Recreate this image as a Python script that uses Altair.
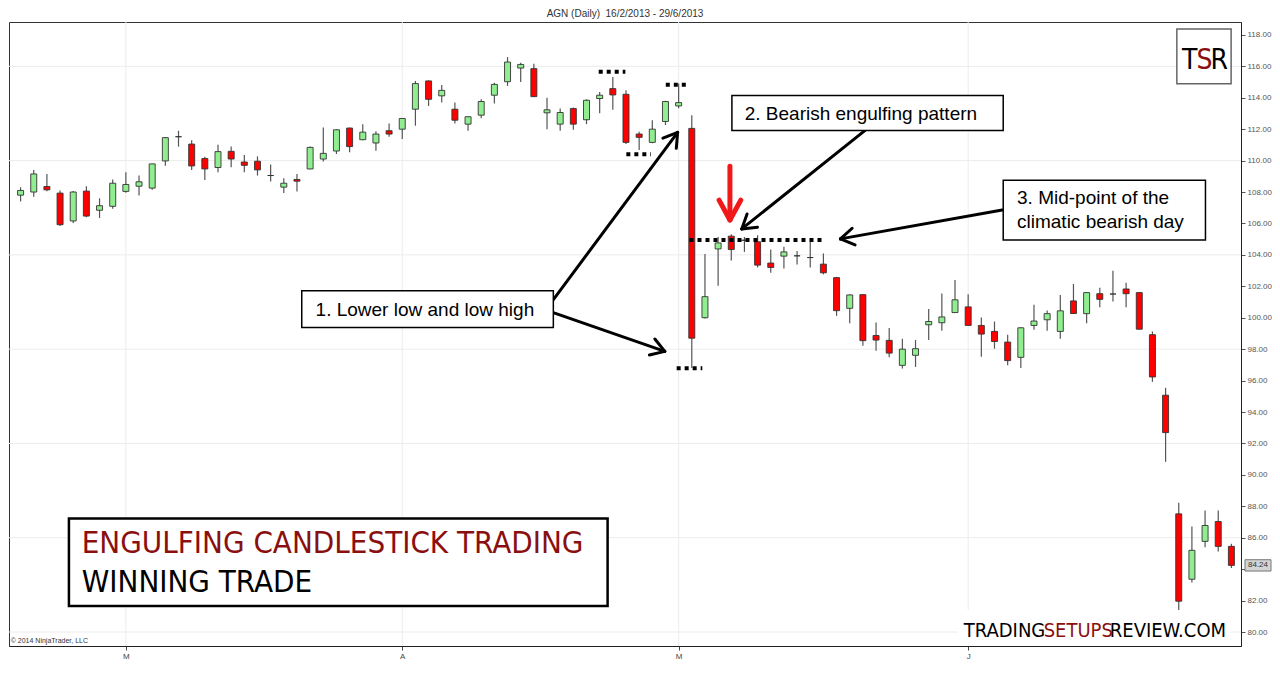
import math
import altair as alt
import pandas as pd

# ---------------- data ----------------
opens = [107.8, 108.0, 108.35, 107.93, 106.16, 108.06, 106.84, 107.09, 108.04, 108.37,
         108.25, 109.98, 111.52, 111.05, 110.13, 109.56, 110.59, 109.91, 109.96, 109.05,
         108.31, 108.8, 109.47, 110.1, 110.61, 112.07, 111.33, 111.12, 111.9, 112.0,
         113.27, 115.07, 114.12, 113.27, 112.32, 112.89, 114.16, 115.02, 115.89, 115.85,
         113.04, 112.32, 113.31, 112.6, 113.95, 114.58, 114.22, 111.69, 111.16, 112.49,
         113.48, 112.05, 100.0, 104.38, 105.19, 104.93, 104.83, 103.48, 103.92, 103.94,
         103.83, 103.41, 102.55, 100.6, 101.47, 98.87, 98.56, 96.97, 97.61, 99.55,
         99.68, 100.33, 100.69, 99.51, 99.13, 98.45, 97.48, 99.51, 99.87, 99.13,
         101.07, 100.26, 101.53, 101.51, 101.83, 101.6, 98.92, 95.07, 87.52, 83.36,
         85.77, 87.03, 85.45]
highs = [108.3, 109.4, 109.15, 108.1, 108.06, 108.37, 107.6, 108.8, 109.26, 109.05,
         109.8, 111.5, 111.9, 111.3, 110.25, 111.01, 110.89, 110.36, 110.27, 109.75,
         108.88, 109.15, 110.9, 112.1, 112.0, 112.1, 112.32, 111.86, 112.36, 112.7,
         115.07, 115.1, 114.81, 113.69, 112.8, 113.9, 114.96, 116.59, 116.23, 116.16,
         114.0, 113.31, 113.38, 113.9, 114.37, 115.32, 114.47, 111.84, 112.57, 113.8,
         114.9, 112.89, 104.05, 105.14, 105.32, 105.14, 105.25, 104.34, 104.51, 104.24,
         104.83, 104.09, 102.6, 101.5, 101.5, 99.69, 99.34, 98.67, 98.58, 100.56,
         101.55, 102.4, 101.49, 100.01, 99.76, 98.92, 99.4, 100.82, 100.46, 101.45,
         102.15, 101.62, 101.91, 102.99, 102.23, 101.62, 99.13, 95.54, 88.22, 86.71,
         87.73, 87.73, 85.62]
lows = [107.4, 107.7, 108.05, 105.84, 106.03, 106.4, 106.35, 106.94, 107.95, 107.78,
        108.14, 109.68, 110.89, 109.4, 108.77, 109.26, 109.58, 109.26, 109.05, 108.67,
        107.93, 108.04, 109.45, 109.94, 110.42, 110.53, 111.3, 110.63, 111.52, 111.37,
        112.22, 113.48, 113.69, 112.36, 111.9, 112.7, 113.63, 114.75, 115.0, 114.05,
        112.0, 111.9, 111.96, 112.32, 113.02, 113.23, 111.05, 110.67, 111.1, 112.26,
        113.33, 96.8, 99.95, 102.04, 103.64, 104.19, 103.2, 102.86, 103.14, 103.39,
        103.2, 102.76, 100.12, 99.65, 98.22, 97.9, 97.48, 96.77, 96.87, 98.58,
        99.17, 100.3, 99.5, 97.52, 98.03, 96.97, 96.8, 99.24, 99.17, 98.67,
        100.25, 99.65, 100.67, 101.03, 100.67, 99.25, 95.92, 90.83, 81.29, 83.15,
        85.4, 85.13, 84.07]
closes = [108.1, 109.15, 108.14, 105.92, 108.0, 106.47, 107.13, 108.56, 108.48, 108.65,
          109.79, 111.46, 111.52, 109.66, 109.47, 110.57, 110.1, 109.7, 109.41, 109.05,
          108.56, 108.69, 110.84, 110.46, 111.96, 110.89, 111.81, 111.69, 111.69, 112.68,
          114.9, 113.9, 114.47, 112.57, 112.79, 113.76, 114.85, 116.27, 116.12, 114.07,
          113.23, 113.06, 112.32, 113.84, 114.16, 114.18, 111.16, 111.48, 112.0, 113.76,
          113.69, 98.7, 101.34, 104.76, 104.34, 104.93, 103.35, 103.2, 104.19, 103.94,
          103.83, 102.86, 100.45, 101.45, 98.54, 98.58, 97.75, 98.0, 98.03, 99.76,
          100.05, 101.14, 99.51, 98.96, 98.49, 97.27, 99.36, 99.79, 100.26, 100.44,
          100.27, 101.6, 101.17, 101.51, 101.53, 99.27, 96.23, 92.69, 81.96, 85.2,
          86.78, 85.45, 84.24]

month_tick_idx = [8, 29, 50, 72]
month_labels = ["M", "A", "M", "J"]
price_ticks = [80, 82, 84, 86, 88, 90, 92, 94, 96, 98, 100, 102, 104, 106, 108,
               110, 112, 114, 116, 118]
grid_prices = [80, 86, 92, 98, 104, 110, 116]
last_price = 84.24

# ---------------- layout ----------------
W, H = 1232, 624
X_DOM = [-0.5, 92.35]
Y_DOM = [79.11, 118.82]
FONT = "Liberation Sans"
NARROW = "DejaVu Sans Condensed"
DARKRED = "#8a1010"


def ix(px):  # reference pixel x -> bar index
    return (px - 12.0) / 13.34


def py(px):  # reference pixel y -> price
    return 118.0 - (px - 32.0) / 15.79


xs = alt.Scale(domain=X_DOM, nice=False, zero=False)
ys = alt.Scale(domain=Y_DOM, nice=False, zero=False)
label_expr = " : ".join(f"datum.value == {v} ? '{l}'" for v, l in zip(month_tick_idx, month_labels)) + " : ''"
x_axis = alt.Axis(values=month_tick_idx, labelExpr=label_expr, title=None, grid=False,
                  tickSize=4, labelFontSize=8, labelColor="#444", tickColor="#444",
                  domainColor="#222", labelFont=FONT, labelPadding=2)
y_axis = alt.Axis(values=price_ticks, format=".2f", orient="right", title=None, grid=False,
                  labelExpr=f"abs(datum.value - {last_price}) < 0.5 ? '' : format(datum.value, '.2f')",
                  tickSize=4, labelFontSize=8, labelColor="#555", tickColor="#555",
                  domainColor="#222", labelFont=FONT, labelPadding=2)


def X(f):
    return alt.X(f, type="quantitative", scale=xs, axis=x_axis)


def Y(f):
    return alt.Y(f, type="quantitative", scale=ys, axis=y_axis)


# ---------------- candles ----------------
rows = []
for i, (o, h, l, c) in enumerate(zip(opens, highs, lows, closes)):
    d = "up" if c > o else ("down" if c < o else "doji")
    rows.append(dict(idx=i, o=o, h=h, l=l, c=c, top=max(o, c), bot=min(o, c), dir=d))
cdf = pd.DataFrame(rows)

grid_h = alt.Chart(pd.DataFrame({"p": grid_prices})).mark_rule(
    color="#ececec", strokeWidth=1).encode(y=Y("p"))
grid_v = alt.Chart(pd.DataFrame({"i": month_tick_idx})).mark_rule(
    color="#ececec", strokeWidth=1).encode(x=X("i"))

wicks = alt.Chart(cdf).mark_rule(color="#555", strokeWidth=1.2).encode(
    x=X("idx"), y=Y("l"), y2="h")
bodies = alt.Chart(cdf).mark_bar(size=6, stroke="#333", strokeWidth=0.9).encode(
    x=X("idx"), y=Y("bot"), y2="top",
    color=alt.Color("dir:N", scale=alt.Scale(domain=["up", "down", "doji"],
                                             range=["#90ee90", "#ff0000", "#222222"]),
                    legend=None))

# ---------------- dotted marker lines ----------------
dots_px = [(598, 625, 69), (626, 651, 152), (666, 690, 82), (677, 703, 367), (690, 824, 238)]
ddf = pd.DataFrame([dict(x1=ix(a), x2=ix(b), y=py(y)) for a, b, y in dots_px])
dotted = alt.Chart(ddf).mark_rule(color="black", strokeWidth=4, strokeDash=[4, 4]).encode(
    x=X("x1"), x2="x2", y=Y("y"))


# ---------------- arrows ----------------
def arrow(sx, sy, tx, ty, L=16, ang=32):
    dx, dy = tx - sx, ty - sy
    n = math.hypot(dx, dy)
    bx, by = -dx / n, -dy / n
    segs = [(sx, sy, tx, ty)]
    for s in (1, -1):
        a = math.radians(ang * s)
        wx = tx + L * (bx * math.cos(a) - by * math.sin(a))
        wy = ty + L * (bx * math.sin(a) + by * math.cos(a))
        segs.append((wx, wy, tx, ty))
    return segs


black_arrows = []
for a in [(549, 302, 678, 130), (549, 310, 665, 350), (868, 128, 743, 227), (1007, 208, 843, 237)]:
    black_arrows += arrow(*a)
adf = pd.DataFrame([dict(x1=ix(a), y1=py(b), x2=ix(c), y2=py(d)) for a, b, c, d in black_arrows])
arrows = alt.Chart(adf).mark_rule(color="black", strokeWidth=3, strokeCap="round").encode(
    x=X("x1"), y=Y("y1"), x2="x2", y2="y2")

red_segs = [(731, 164, 731, 215), (720, 198, 731, 218), (742, 198, 731, 218)]
rdf = pd.DataFrame([dict(x1=ix(a), y1=py(b), x2=ix(c), y2=py(d)) for a, b, c, d in red_segs])
red_arrow = alt.Chart(rdf).mark_rule(color="#f01818", strokeWidth=5, strokeCap="round").encode(
    x=X("x1"), y=Y("y1"), x2="x2", y2="y2")


# ---------------- boxes ----------------
def box(rects, **kw):
    df = pd.DataFrame([dict(x1=ix(a), y1=py(b), x2=ix(c), y2=py(d)) for a, b, c, d in rects])
    return alt.Chart(df).mark_rect(**kw).encode(x=X("x1"), x2="x2", y=Y("y1"), y2="y2")


note_boxes = box([(297, 289, 552, 326), (733, 93, 1008, 128), (1008, 178, 1213, 238)],
                 fill="white", stroke="black", strokeWidth=1.5)
big_box = box([(61, 518, 607, 606)], fill="white", stroke="black", strokeWidth=2.5)
logo_bg = box([(962, 610, 1238, 645)], fill="white", stroke=None, strokeWidth=0)
tsr_box = box([(1184, 26, 1239, 81)], fill="white", stroke="#666", strokeWidth=1.5)


# ---------------- texts ----------------
def texts(items, **kw):
    df = pd.DataFrame([dict(x=ix(a), y=py(b), t=t) for a, b, t in items])
    return alt.Chart(df).mark_text(**kw).encode(x=X("x"), y=Y("y"), text="t:N")


note_text = texts([(311, 314, "1. Lower low and low high"),
                   (746, 118, "2. Bearish engulfing pattern"),
                   (1022, 202, "3. Mid-point of the"),
                   (1022, 226, "climatic bearish day")],
                  align="left", baseline="alphabetic", font=FONT, fontSize=19, color="black")
big1 = texts([(74, 553, "ENGULFING CANDLESTICK TRADING")], align="left", baseline="alphabetic",
             font=NARROW, fontSize=31, color=DARKRED)
big2 = texts([(74, 592, "WINNING TRADE")], align="left", baseline="alphabetic",
             font=NARROW, fontSize=31, color="black")
logo1 = texts([(968, 637, "TRADING"), (1116, 637, "REVIEW.COM")], align="left",
              baseline="alphabetic", font=NARROW, fontSize=20, color="black")
logo2 = texts([(1049, 637, "SETUPS")], align="left", baseline="alphabetic",
              font=NARROW, fontSize=20, color=DARKRED)
tsr1 = texts([(1197, 66, "T"), (1227, 66, "R")], align="center", baseline="alphabetic",
             font=NARROW, fontSize=28, color="black")
tsr2 = texts([(1212, 66, "S")], align="center", baseline="alphabetic",
             font=NARROW, fontSize=28, color=DARKRED)
copy_txt = texts([(2, 643, "© 2014 NinjaTrader, LLC")], align="left", baseline="alphabetic",
                 font=FONT, fontSize=7, color="#333")

# last price marker on the price axis
mdf = pd.DataFrame({"p": [last_price], "a": [last_price + 0.36], "b": [last_price - 0.36],
                    "t": [f"{last_price:.2f}"]})
marker_rect = alt.Chart(mdf).mark_rect(fill="#d4d4d4", stroke="#777", strokeWidth=1).encode(
    x=alt.value(W + 4), x2=alt.value(W + 30), y=Y("a"), y2="b")
marker_txt = alt.Chart(mdf).mark_text(align="center", baseline="middle", font=FONT,
                                      fontSize=8, color="#333").encode(
    x=alt.value(W + 17), y=Y("p"), text="t:N")

chart = alt.layer(
    grid_h, grid_v, wicks, bodies, dotted, arrows, red_arrow,
    note_boxes, note_text, big_box, big1, big2, logo_bg, logo1, logo2,
    tsr_box, tsr1, tsr2, copy_txt, marker_rect, marker_txt,
).properties(
    width=W, height=H,
    padding={"left": 0, "top": 0, "right": 0, "bottom": 0},
    background="white",
    title=alt.TitleParams("AGN (Daily)\u00a0 16/2/2013 - 29/6/2013", fontSize=10, font=FONT,
                          color="#333", anchor="middle", offset=3, fontWeight="normal"),
).configure_view(stroke="#333", strokeWidth=1)

chart.save("out.html", embed_options={"renderer": "svg", "actions": False})
